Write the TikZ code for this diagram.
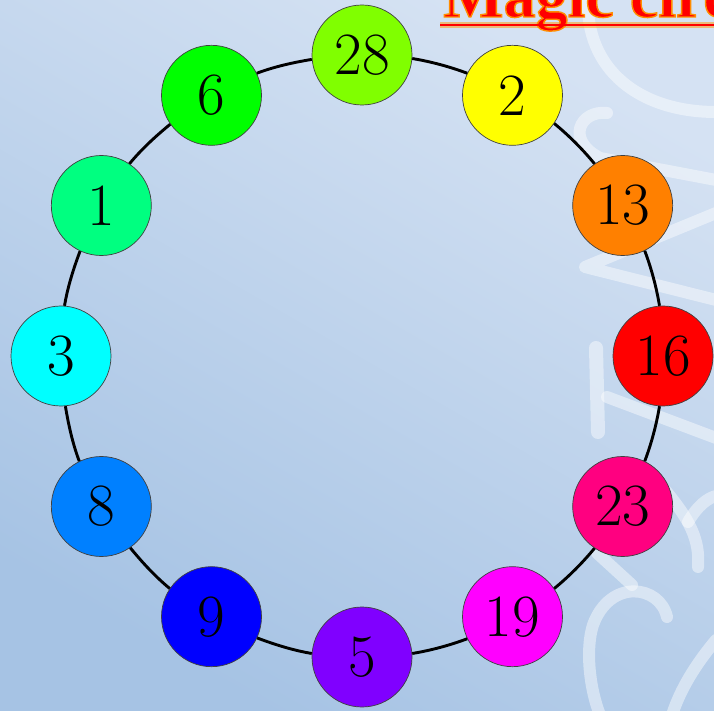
\documentclass[tikz,border=0pt]{standalone}
\usepackage{fontspec}
\newfontfamily\titlefont{Liberation Serif}
\definecolor{bgtop}{HTML}{D5E2F3}
\definecolor{bgbot}{HTML}{A6C3E4}
\definecolor{titlered}{RGB}{255,0,0}
\definecolor{glow}{RGB}{255,150,0}
\definecolor{c28}{RGB}{128,255,0}
\definecolor{c2}{RGB}{255,255,0}
\definecolor{c13}{RGB}{255,128,0}
\definecolor{c16}{RGB}{255,0,0}
\definecolor{c23}{RGB}{255,0,128}
\definecolor{c19}{RGB}{255,0,255}
\definecolor{c5}{RGB}{128,0,255}
\definecolor{c9}{RGB}{0,0,255}
\definecolor{c8}{RGB}{0,128,255}
\definecolor{c3}{RGB}{0,255,255}
\definecolor{c1}{RGB}{0,255,128}
\definecolor{c6}{RGB}{0,255,0}
\tikzset{
  num/.style={circle, draw=black!75, line width=0.7pt, minimum size=100pt, inner sep=0pt,
    font=\fontsize{60}{60}\selectfont},
  ringline/.style={draw=black, line width=2.9pt},
  wm/.style={draw=white, opacity=0.45, line width=12pt, line cap=round, line join=round}
}
\begin{document}
\begin{tikzpicture}[x=1pt,y=1pt]
\useasboundingbox (0,0) rectangle (714,710);
\shade[top color=bgtop, bottom color=bgbot, shading angle=-30] (0,0) rectangle (714,710);
% watermark strokes
\draw[wm] (588,712) .. controls (585,640) and (640,598) .. (716,598);
\draw[wm] (607,597) .. controls (580,600) and (565,570) .. (600,552) -- (716,530);
\draw[wm] (716,497) -- (585,443) -- (716,410);
\draw[wm, line width=14pt] (596,362) -- (598,278);
\draw[wm] (607,313) -- (716,272);
\draw[wm] (597,157) -- (632,125);
\draw[wm] (667,93) .. controls (660,125) and (610,132) .. (593,85) .. controls (585,60) and (590,20) .. (600,-5);
\draw[wm] (665,220) .. controls (690,190) and (700,170) .. (698,143);
\draw[wm] (688,188) .. controls (698,205) and (708,212) .. (716,214);
\draw[wm] (716,70) .. controls (695,45) and (680,20) .. (672,-5);
% nodes
\begin{scope}[shift={(362,354)}]
\foreach \v/\a/\c in {28/90/c28, 2/60/c2, 13/30/c13, 16/0/c16, 23/-30/c23, 19/-60/c19,
  5/-90/c5, 9/-120/c9, 8/-150/c8, 3/-180/c3, 1/-210/c1, 6/-240/c6}
  \node[num, fill=\c] (n\v) at (\a:301) {\v};
\foreach \p/\a/\q in {28/90/2, 2/60/13, 13/30/16, 16/0/23, 23/-30/19, 19/-60/5,
  5/-90/9, 9/-120/8, 8/-150/3, 3/-180/1, 1/-210/6, 6/-240/28}{
  \pgfmathsetmacro\sa{\a-94.77}
  \pgfmathsetmacro\ea{\a+64.77}
  \pgfmathsetmacro\oa{\a-99.53}
  \pgfmathsetmacro\ia{\a+69.53}
  \draw[ringline] (n\p.\sa) to[out=\oa, in=\ia, looseness=0.86] (n\q.\ea);
}
\end{scope}
% title
\draw[draw=glow, opacity=0.5, line width=6pt] (440,685) -- (716,685);
\node[anchor=base west, inner sep=0pt, text=titlered,
  font=\titlefont\bfseries\fontsize{64}{64}\selectfont] (title) at (443,693)
  {\special{pdf:literal 2 Tr 1.4 w 1 0.55 0 RG}Magic circle\special{pdf:literal 0 Tr}};
\draw[draw=titlered, line width=2pt] ([xshift=-3pt,yshift=-8pt]title.base west) -- ++(280,0);
\end{tikzpicture}
\end{document}
